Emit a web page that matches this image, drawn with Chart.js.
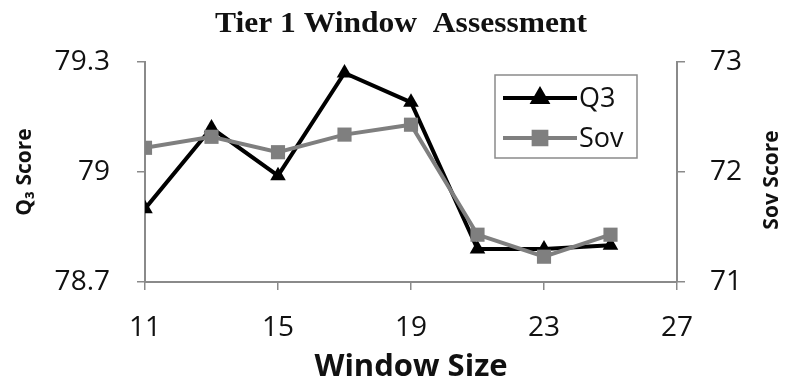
<!DOCTYPE html>
<html><head><meta charset="utf-8">
<script src="https://cdn.jsdelivr.net/npm/chart.js@4/dist/chart.umd.min.js"></script>
<style>html,body{margin:0;padding:0;background:#fff}#wrap{width:787px;height:388px;position:relative}</style>
</head><body><div id="wrap"><canvas id="c" width="787" height="388"></canvas></div>
<script>
const windowSizes = [11, 13, 15, 17, 19, 21, 23, 25];
const q3Values = [78.90, 79.12, 78.99, 79.27, 79.19, 78.79, 78.79, 78.80];
const sovValues = [72.22, 72.32, 72.18, 72.34, 72.43, 71.43, 71.23, 71.43];
const xTicks = [11, 15, 19, 23, 27];
const q3Ticks = [78.7, 79, 79.3];
const sovTicks = [71, 72, 73];
const seriesNames = ['Q3', 'Sov'];
const chartTitle = 'Tier 1 Window  Assessment';
const xTitle = 'Window Size';
const yLeftTitle = 'Q\u2083 Score';
const yRightTitle = 'Sov Score';

const AXIS = '#8a8a8a';
const FONT = "'Open Sans', sans-serif";

const extras = {
  id: 'extras',
  afterDraw(chart) {
    const ctx = chart.ctx;
    const area = chart.chartArea;
    ctx.save();
    // title
    ctx.font = "bold 30px 'Liberation Serif', serif";
    ctx.fillStyle = '#111';
    ctx.textBaseline = 'alphabetic';
    ctx.textAlign = 'center';
    const tw = ctx.measureText(chartTitle).width;
    const sx = Math.min(1.15, Math.max(0.85, 372 / tw));
    ctx.save();
    ctx.translate(401, 32);
    ctx.scale(sx, 1);
    ctx.fillText(chartTitle, 0, 0);
    ctx.restore();
    // right axis title (reads upward)
    ctx.save();
    ctx.font = "bold 21px " + FONT;
    ctx.translate(772, (area.top + area.bottom) / 2 + 8);
    ctx.rotate(-Math.PI / 2);
    ctx.textAlign = 'center';
    ctx.textBaseline = 'middle';
    ctx.fillStyle = '#111';
    ctx.fillText(yRightTitle, 0, 0);
    ctx.restore();
    // legend
    const lx = 495, ly = 75, lw = 142, lh = 83;
    ctx.fillStyle = '#fff';
    ctx.fillRect(lx, ly, lw, lh);
    ctx.strokeStyle = '#8a8a8a';
    ctx.lineWidth = 1.5;
    ctx.strokeRect(lx, ly, lw, lh);
    chart.data.datasets.slice().sort((a, b) => a.legendIndex - b.legendIndex).forEach((ds, i) => {
      const y = ly + 23 + i * 40;
      ctx.strokeStyle = ds.borderColor;
      ctx.lineWidth = 4;
      ctx.beginPath();
      ctx.moveTo(lx + 8, y);
      ctx.lineTo(lx + 82, y);
      ctx.stroke();
      Chart.helpers.drawPoint(ctx, {pointStyle: ds.pointStyle, radius: ds.pointRadius - 1, borderWidth: 1, rotation: 0}, lx + 45, y);
      ctx.fillStyle = ds.pointBackgroundColor;
      ctx.strokeStyle = ds.pointBorderColor;
      ctx.fill();
      ctx.fillStyle = '#111';
      ctx.font = "27px " + FONT;
      ctx.textAlign = 'left';
      ctx.textBaseline = 'middle';
      ctx.fillText(ds.label, lx + 84, y + 1);
    });
    ctx.restore();
  }
};

new Chart(document.getElementById('c'), {
  type: 'line',
  data: {
    datasets: [
      {
        label: seriesNames[1], legendIndex: 1, yAxisID: 'ySov', order: 0,
        data: windowSizes.map((x, i) => ({x, y: sovValues[i]})),
        borderColor: '#7f7f7f', backgroundColor: '#7f7f7f',
        pointBackgroundColor: '#7f7f7f', pointBorderColor: '#7f7f7f',
        borderWidth: 4, pointStyle: 'rect', pointRadius: 10, pointBorderWidth: 0,
        tension: 0
      },
      {
        label: seriesNames[0], legendIndex: 0, yAxisID: 'yQ3', order: 1,
        data: windowSizes.map((x, i) => ({x, y: q3Values[i]})),
        borderColor: '#000', backgroundColor: '#000',
        pointBackgroundColor: '#000', pointBorderColor: '#000',
        borderWidth: 4, pointStyle: 'triangle', pointRadius: 9, pointBorderWidth: 0,
        tension: 0
      }
    ]
  },
  options: {
    responsive: false,
    animation: false,
    layout: {padding: {top: 62, left: 0, right: 0, bottom: 0}},
    plugins: {legend: {display: false}, title: {display: false}, tooltip: {enabled: false}},
    scales: {
      x: {
        type: 'linear', min: 11, max: 27,
        afterBuildTicks: s => { s.ticks = xTicks.map(v => ({value: v})); },
        afterFit: s => { s.height = 106; },
        ticks: {color: '#111', font: {family: FONT, size: 28}, padding: 21, callback: v => String(v), maxRotation: 0},
        grid: {drawOnChartArea: false, drawTicks: true, tickLength: 8, color: AXIS, lineWidth: 1.5},
        border: {color: AXIS, width: 2},
        title: {display: true, text: xTitle, color: '#111', font: {family: FONT, size: 31, weight: 'bold'}, padding: {top: 0, bottom: 2}}
      },
      yQ3: {
        type: 'linear', position: 'left', min: 78.7, max: 79.3,
        afterBuildTicks: s => { s.ticks = q3Ticks.map(v => ({value: v})); },
        afterFit: s => { s.width = 145; },
        ticks: {color: '#111', font: {family: FONT, size: 28}, padding: 27, callback: v => String(v)},
        grid: {drawOnChartArea: false, drawTicks: true, tickLength: 8, color: AXIS, lineWidth: 1.5},
        border: {color: AXIS, width: 2},
        title: {display: true, text: yLeftTitle, color: '#111', font: {family: FONT, size: 21, weight: 'bold'}, padding: {top: 12, bottom: 0}}
      },
      ySov: {
        type: 'linear', position: 'right', min: 71, max: 73,
        afterBuildTicks: s => { s.ticks = sovTicks.map(v => ({value: v})); },
        afterFit: s => { s.width = 110; },
        ticks: {color: '#111', font: {family: FONT, size: 28}, padding: 25, callback: v => String(v)},
        grid: {drawOnChartArea: false, drawTicks: true, tickLength: 8, color: AXIS, lineWidth: 1.5},
        border: {color: AXIS, width: 2},
        title: {display: false}
      }
    }
  },
  plugins: [extras]
});
</script>
</body></html>
